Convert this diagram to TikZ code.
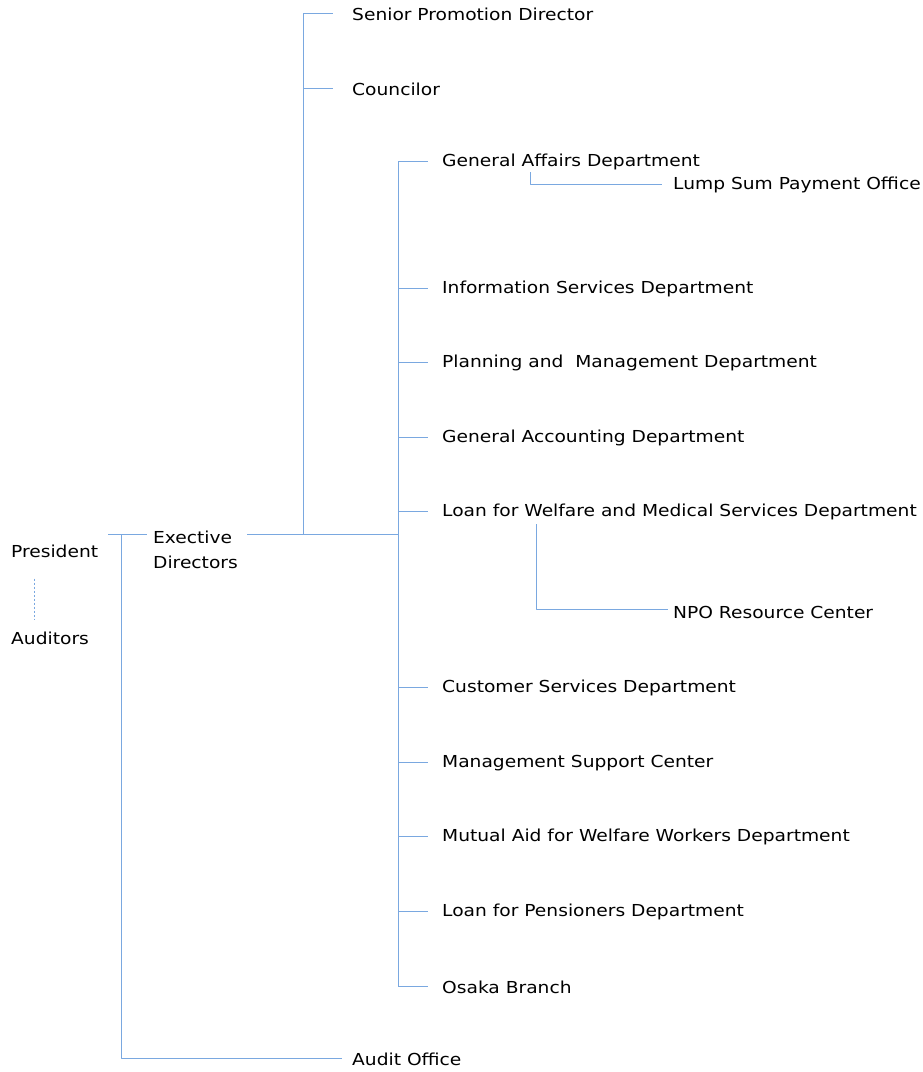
\documentclass[tikz,border=0pt]{standalone}
\usepackage{fontspec}
\setmainfont[FakeStretch=1.13]{DejaVu Sans}
\usetikzlibrary{calc}
\definecolor{linkblue}{RGB}{122,168,224}
\begin{document}
\begin{tikzpicture}[x=1pt,y=-1pt,font=\fontsize{16.5}{25}\selectfont, line join=round,
		unit/.style={anchor=west,inner sep=0pt},
		link/.style={draw=linkblue,line width=1pt}]
	\useasboundingbox (0,0) rectangle (923,1072);
	%%Left column
	\node[unit] (pres) at (11,551) {President};
	\node[unit] (aud) at (11,638) {Auditors};
	\node[unit,align=left] (exec) at (153,550) {Exective\\Directors};
	\node[unit] (audit) at (352,1059) {Audit Office};
	%%Upper staff
	\node[unit] (spd) at (352,14) {Senior Promotion Director};
	\node[unit] (coun) at (352,89) {Councilor};
	%%Departments
	\node[unit] (gad) at (442,162) {General Affairs Department};
	\node[unit] (lump) at (673,185) {Lump Sum Payment Office};
	\node[unit] (isd) at (442,289) {Information Services Department};
	\node[unit] (pmd) at (442,363) {Planning and\ \ Management Department};
	\node[unit] (gacd) at (442,438) {General Accounting Department};
	\node[unit] (lwm) at (442,512) {Loan for Welfare and Medical Services Department};
	\node[unit] (npo) at (673,612) {NPO Resource Center};
	\node[unit] (csd) at (442,688) {Customer Services Department};
	\node[unit] (msc) at (442,763) {Management Support Center};
	\node[unit] (maw) at (442,837) {Mutual Aid for Welfare Workers Department};
	\node[unit] (lpd) at (442,912) {Loan for Pensioners Department};
	\node[unit] (osaka) at (442,987) {Osaka Branch};
	%%Junctions
	\coordinate (jL) at (121,534);
	\coordinate (jT) at (303,534);
	\coordinate (jR) at (398,534);
	\coordinate (pL) at (108,534);
	\coordinate (eR) at (247,534);
	%%Connectors
	\draw[link,dash pattern=on 2pt off 2pt] ($(pres.south west)+(23,21)$) -- ($(aud.north west)+(23,-11)$);
	\draw[link] (pL) -- ($(exec.west |- pL)+(-6,0)$);
	\draw[link] (jL) |- ($(audit.west)+(-10,-1)$);
	\draw[link] (eR) -- (jR);
	\draw[link] (jT) |- ($(spd.west)+(-19,-1)$);
	\draw[link] (jT |- coun) ++(0,-1) -- ++(30,0);
	\draw[link] ($(jR |- gad)+(0,-1)$) -- ($(jR |- osaka)+(0,-1)$);
	\foreach \n in {gad,isd,pmd,gacd,lwm,csd,msc,maw,lpd,osaka}
		\draw[link] ($(jR |- \n)+(0,-1)$) -- ++(30,0);
	\draw[link] ($(gad.west)+(88,10)$) |- ($(lump.west)+(-11,-1)$);
	\draw[link] ($(lwm.west)+(94,12)$) |- ($(npo.west)+(-5,-3)$);
\end{tikzpicture}
\end{document}
